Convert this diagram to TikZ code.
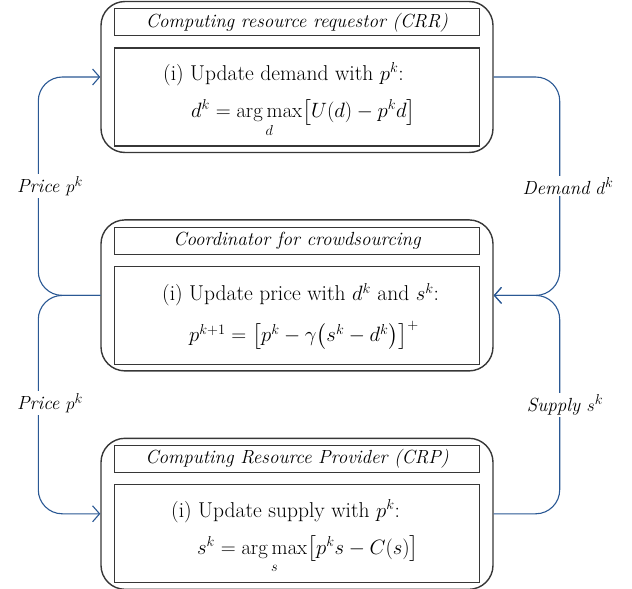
\documentclass[tikz,border=0pt]{standalone}
\usepackage{amsmath,amssymb}
\usepackage{xcolor}
\usepackage{tikz}
\usetikzlibrary{arrows.meta,calc,positioning}
\definecolor{flowblue}{RGB}{42,88,148}
\definecolor{boxgray}{RGB}{55,55,55}
\tikzset{agent/.style={draw=boxgray, line width=1.4pt, rounded corners=24pt, minimum width=392pt, minimum height=151pt, inner sep=0pt}}
\tikzset{headbox/.style={draw=boxgray, line width=1.1pt, minimum width=365pt, minimum height=27pt, inner sep=0pt, font=\fontsize{19}{23}\selectfont\itshape}}
\tikzset{rulebox/.style={draw=boxgray, line width=1.1pt, minimum width=365pt, minimum height=98pt, inner sep=0pt}}
\tikzset{ruletext/.style={anchor=base west, inner sep=0pt, font=\fontsize{21.5}{25}\selectfont}}
\tikzset{flow/.style={draw=flowblue, line width=1.1pt, rounded corners=24pt, -{Straight Barb[length=7pt,width=16pt]}}}
\tikzset{flowlabel/.style={fill=white, inner sep=2pt, font=\fontsize{19}{23}\selectfont\itshape}}

\begin{document}
\begin{tikzpicture}[x=1pt,y=-1pt]
    \useasboundingbox (0,0) rectangle (632,589);

    % requestor
    \node[agent] (crr) at (297,77) {};
    \node[headbox,below=7.5pt of crr.north] (crrhead) {Computing resource requestor (CRR)};
    \node[rulebox,below=11pt of crrhead] (crrbody) {};
    \node[ruletext] (crrstep) at ($(crrbody.north west)+(49,33)$) {(i) Update demand with $p^k$:};
    \node[ruletext] (crrrule) at ($(crrbody.north west)+(77,70)$) {$d^k = \operatorname*{arg\,max}\limits_d \bigl[U(d) - p^k d\bigr]$};

    % coordinator
    \node[agent,below=66pt of crr] (coord) {};
    \node[headbox,below=7.5pt of coord.north] (coordhead) {Coordinator for crowdsourcing};
    \node[rulebox,below=11pt of coordhead] (coordbody) {};
    \node[ruletext] (coordstep) at ($(coordbody.north west)+(48,35)$) {(i) Update price with $d^k$ and $s^k$:};
    \node[ruletext] (coordrule) at ($(coordbody.north west)+(75,76)$) {$p^{k+1} = \bigl[p^k - \gamma\bigl(s^k - d^k\bigr)\bigr]^+$};

    % provider
    \node[agent,below=66pt of coord] (crp) {};
    \node[headbox,below=7.5pt of crp.north] (crphead) {Computing Resource Provider (CRP)};
    \node[rulebox,below=11pt of crphead] (crpbody) {};
    \node[ruletext] (crpstep) at ($(crpbody.north west)+(57,33)$) {(i) Update supply with $p^k$:};
    \node[ruletext] (crprule) at ($(crpbody.north west)+(83,70)$) {$s^k = \operatorname*{arg\,max}\limits_s \bigl[p^k s - C(s)\bigr]$};

    \coordinate (lj) at ($(coord.west)+(-62,0)$);
    \coordinate (rj) at ($(coord.east)+(66,0)$);

    \draw[flow] (coord.west) -- (lj) |- (crr.west);
    \draw[flow] (coord.west) -- (lj) |- (crp.west);
    \draw[flow] (crr.east) -| (rj) -- (coord.east);
    \draw[flow] (crp.east) -| (rj) -- (coord.east);

    \node[flowlabel] (priceup) at (50,186) {Price $p^k$};
    \node[flowlabel] (pricedown) at (50,403) {Price $p^k$};
    \node[flowlabel] (demand) at (568,186) {Demand $d^k$};
    \node[flowlabel] (supply) at (565,405) {Supply $s^k$};
\end{tikzpicture}
\end{document}
